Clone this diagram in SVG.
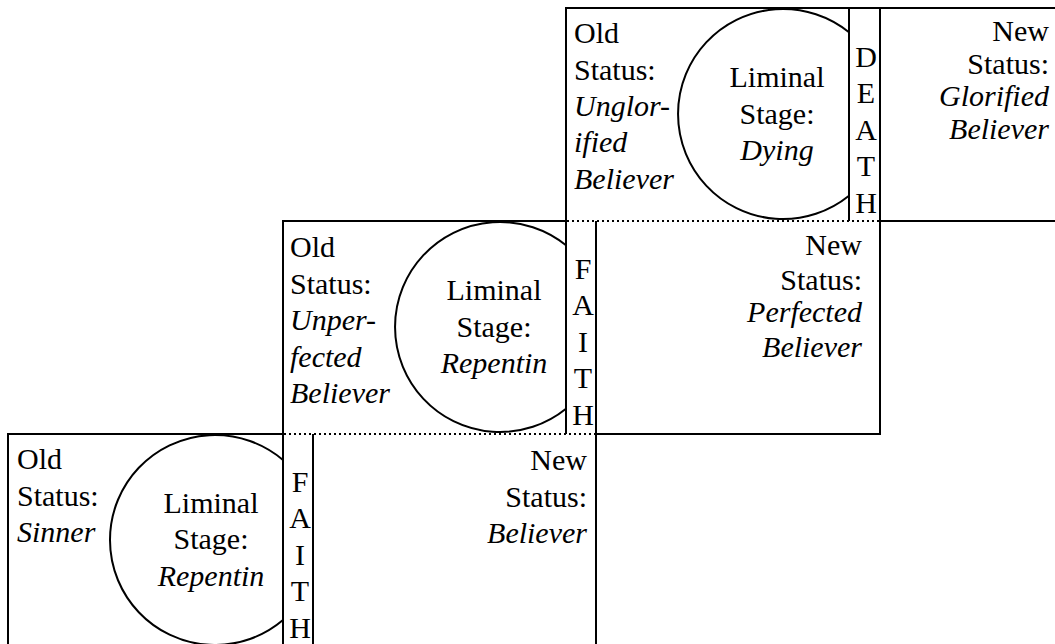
<svg xmlns="http://www.w3.org/2000/svg" width="1055" height="644" viewBox="0 0 1055 644">
<rect width="1055" height="644" fill="#fff"/>
<g id="old-sinner">
<line stroke="#000" stroke-width="2" x1="7" y1="434" x2="283" y2="434"/>
<line stroke="#000" stroke-width="2" x1="8" y1="433" x2="8" y2="650"/>
<text font-family="Liberation Serif, Times New Roman, serif" font-size="30" x="17" y="469">Old</text>
<text font-family="Liberation Serif, Times New Roman, serif" font-size="30" x="17" y="505.5">Status:</text>
<text font-family="Liberation Serif, Times New Roman, serif" font-size="30" font-style="italic" x="17" y="542">Sinner</text>
</g>
<g id="liminal-repenting-1">
<path stroke="#000" stroke-width="2" fill="none" d="M283 460 A105 105 0 1 0 283 620"/>
<text font-family="Liberation Serif, Times New Roman, serif" font-size="30" text-anchor="middle" x="211" y="513">Liminal</text>
<text font-family="Liberation Serif, Times New Roman, serif" font-size="30" text-anchor="middle" x="211" y="549">Stage:</text>
<text font-family="Liberation Serif, Times New Roman, serif" font-size="30" text-anchor="middle" font-style="italic" x="211" y="585.5">Repentin</text>
</g>
<g id="faith-1">
<line stroke="#000" stroke-width="2" x1="283" y1="433" x2="283" y2="650"/>
<line stroke="#000" stroke-width="2" x1="313" y1="434" x2="313" y2="650"/>
<text font-family="Liberation Serif, Times New Roman, serif" font-size="30" text-anchor="middle" x="300" y="491.5">F</text>
<text font-family="Liberation Serif, Times New Roman, serif" font-size="30" text-anchor="middle" x="300" y="528">A</text>
<text font-family="Liberation Serif, Times New Roman, serif" font-size="30" text-anchor="middle" x="300" y="564.5">I</text>
<text font-family="Liberation Serif, Times New Roman, serif" font-size="30" text-anchor="middle" x="300" y="601">T</text>
<text font-family="Liberation Serif, Times New Roman, serif" font-size="30" text-anchor="middle" x="300" y="637.5">H</text>
</g>
<g id="new-believer">
<line stroke="#000" stroke-width="2" stroke-dasharray="2 3" x1="284" y1="434" x2="595" y2="434"/>
<line stroke="#000" stroke-width="2" x1="596" y1="433" x2="596" y2="650"/>
<text font-family="Liberation Serif, Times New Roman, serif" font-size="30" text-anchor="end" x="587" y="470">New</text>
<text font-family="Liberation Serif, Times New Roman, serif" font-size="30" text-anchor="end" x="587" y="506.5">Status:</text>
<text font-family="Liberation Serif, Times New Roman, serif" font-size="30" text-anchor="end" font-style="italic" x="587" y="543">Believer</text>
</g>
<g id="old-unperfected">
<line stroke="#000" stroke-width="2" x1="282" y1="221" x2="566" y2="221"/>
<line stroke="#000" stroke-width="2" x1="283" y1="220" x2="283" y2="434"/>
<text font-family="Liberation Serif, Times New Roman, serif" font-size="30" x="290" y="257">Old</text>
<text font-family="Liberation Serif, Times New Roman, serif" font-size="30" x="290" y="293.5">Status:</text>
<text font-family="Liberation Serif, Times New Roman, serif" font-size="30" font-style="italic" x="290" y="330">Unper-</text>
<text font-family="Liberation Serif, Times New Roman, serif" font-size="30" font-style="italic" x="290" y="366.5">fected</text>
<text font-family="Liberation Serif, Times New Roman, serif" font-size="30" font-style="italic" x="290" y="403">Believer</text>
</g>
<g id="liminal-repenting-2">
<path stroke="#000" stroke-width="2" fill="none" d="M566 245.3 A105 105 0 1 0 566 408.7"/>
<text font-family="Liberation Serif, Times New Roman, serif" font-size="30" text-anchor="middle" x="494" y="300">Liminal</text>
<text font-family="Liberation Serif, Times New Roman, serif" font-size="30" text-anchor="middle" x="494" y="336.5">Stage:</text>
<text font-family="Liberation Serif, Times New Roman, serif" font-size="30" text-anchor="middle" font-style="italic" x="494" y="373">Repentin</text>
</g>
<g id="faith-2">
<line stroke="#000" stroke-width="2" x1="566" y1="220" x2="566" y2="434"/>
<line stroke="#000" stroke-width="2" x1="596" y1="221" x2="596" y2="434"/>
<text font-family="Liberation Serif, Times New Roman, serif" font-size="30" text-anchor="middle" x="583" y="278.5">F</text>
<text font-family="Liberation Serif, Times New Roman, serif" font-size="30" text-anchor="middle" x="583" y="315">A</text>
<text font-family="Liberation Serif, Times New Roman, serif" font-size="30" text-anchor="middle" x="583" y="351.5">I</text>
<text font-family="Liberation Serif, Times New Roman, serif" font-size="30" text-anchor="middle" x="583" y="388">T</text>
<text font-family="Liberation Serif, Times New Roman, serif" font-size="30" text-anchor="middle" x="583" y="424.5">H</text>
</g>
<g id="new-perfected">
<line stroke="#000" stroke-width="2" stroke-dasharray="2 3" x1="567" y1="221" x2="879" y2="221"/>
<line stroke="#000" stroke-width="2" x1="880" y1="220" x2="880" y2="435"/>
<line stroke="#000" stroke-width="2" x1="596" y1="434" x2="881" y2="434"/>
<text font-family="Liberation Serif, Times New Roman, serif" font-size="30" text-anchor="end" x="862" y="255">New</text>
<text font-family="Liberation Serif, Times New Roman, serif" font-size="30" text-anchor="end" x="862" y="290">Status:</text>
<text font-family="Liberation Serif, Times New Roman, serif" font-size="30" text-anchor="end" font-style="italic" x="862" y="322">Perfected</text>
<text font-family="Liberation Serif, Times New Roman, serif" font-size="30" text-anchor="end" font-style="italic" x="862" y="357">Believer</text>
</g>
<g id="old-unglorified">
<line stroke="#000" stroke-width="2" x1="565" y1="8" x2="849" y2="8"/>
<line stroke="#000" stroke-width="2" x1="566" y1="7" x2="566" y2="221"/>
<text font-family="Liberation Serif, Times New Roman, serif" font-size="30" x="574" y="43">Old</text>
<text font-family="Liberation Serif, Times New Roman, serif" font-size="30" x="574" y="79.5">Status:</text>
<text font-family="Liberation Serif, Times New Roman, serif" font-size="30" font-style="italic" x="574" y="116">Unglor-</text>
<text font-family="Liberation Serif, Times New Roman, serif" font-size="30" font-style="italic" x="574" y="152">ified</text>
<text font-family="Liberation Serif, Times New Roman, serif" font-size="30" font-style="italic" x="574" y="188.5">Believer</text>
</g>
<g id="liminal-dying">
<path stroke="#000" stroke-width="2" fill="none" d="M849 32.3 A105 105 0 1 0 849 195.7"/>
<text font-family="Liberation Serif, Times New Roman, serif" font-size="30" text-anchor="middle" x="777" y="87">Liminal</text>
<text font-family="Liberation Serif, Times New Roman, serif" font-size="30" text-anchor="middle" x="777" y="123.5">Stage:</text>
<text font-family="Liberation Serif, Times New Roman, serif" font-size="30" text-anchor="middle" font-style="italic" x="777" y="160">Dying</text>
</g>
<g id="death">
<line stroke="#000" stroke-width="2" x1="849" y1="8" x2="849" y2="221"/>
<line stroke="#000" stroke-width="2" x1="880" y1="8" x2="880" y2="221"/>
<line stroke="#000" stroke-width="2" x1="849" y1="8" x2="880" y2="8"/>
<text font-family="Liberation Serif, Times New Roman, serif" font-size="30" text-anchor="middle" x="866" y="66.5">D</text>
<text font-family="Liberation Serif, Times New Roman, serif" font-size="30" text-anchor="middle" x="866" y="103">E</text>
<text font-family="Liberation Serif, Times New Roman, serif" font-size="30" text-anchor="middle" x="866" y="139.5">A</text>
<text font-family="Liberation Serif, Times New Roman, serif" font-size="30" text-anchor="middle" x="866" y="176">T</text>
<text font-family="Liberation Serif, Times New Roman, serif" font-size="30" text-anchor="middle" x="866" y="212.5">H</text>
</g>
<g id="new-glorified">
<line stroke="#000" stroke-width="2" x1="880" y1="8" x2="1060" y2="8"/>
<line stroke="#000" stroke-width="2" x1="880" y1="221" x2="1060" y2="221"/>
<text font-family="Liberation Serif, Times New Roman, serif" font-size="30" text-anchor="end" x="1049" y="41">New</text>
<text font-family="Liberation Serif, Times New Roman, serif" font-size="30" text-anchor="end" x="1049" y="74">Status:</text>
<text font-family="Liberation Serif, Times New Roman, serif" font-size="30" text-anchor="end" font-style="italic" x="1049" y="106">Glorified</text>
<text font-family="Liberation Serif, Times New Roman, serif" font-size="30" text-anchor="end" font-style="italic" x="1049" y="139">Believer</text>
</g>
<g id="connectors"></g>
</svg>
